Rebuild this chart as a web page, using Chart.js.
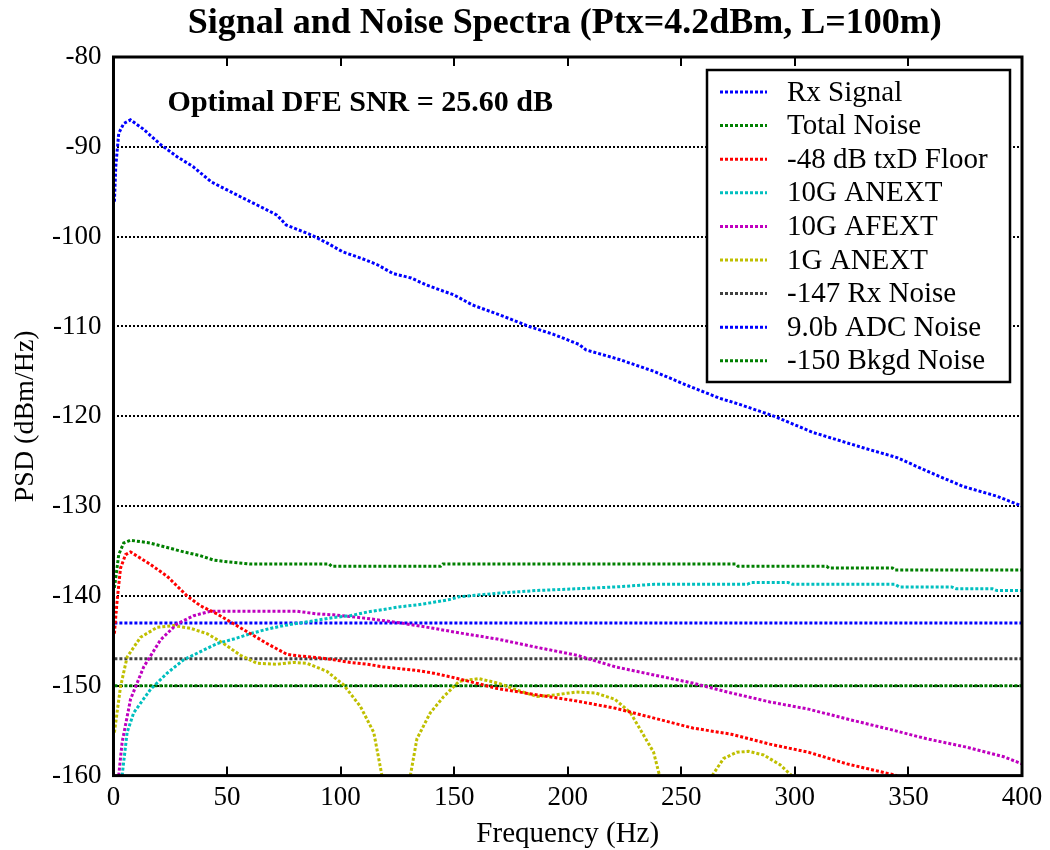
<!DOCTYPE html>
<html>
<head>
<meta charset="utf-8">
<script src="https://cdn.jsdelivr.net/npm/chart.js@4.4.1/dist/chart.umd.min.js"></script>
<style>
  html, body { margin: 0; padding: 0; background: #fff; }
  #wrap { width: 1050px; height: 850px; }
</style>
</head>
<body>
<div id="wrap"><canvas id="chart" width="1050" height="850"></canvas></div>
<script>
// values
const xTicks = [0, 50, 100, 150, 200, 250, 300, 350, 400];
const yTicks = [-80, -90, -100, -110, -120, -130, -140, -150, -160];

const rxFreq = [0.4, 1, 2.3, 4.5, 7.5, 13, 21, 28, 35, 43, 50, 57, 65, 72, 76, 87, 94, 101, 109, 116, 123, 131, 138, 150, 158, 172, 183, 194, 205, 208, 223, 238, 252, 267, 276, 291, 308, 330, 345, 360, 374, 389, 400];
const rxPsd = [-96.1, -92.2, -88.5, -87.4, -87.0, -88.0, -89.8, -91.1, -92.2, -93.9, -94.8, -95.7, -96.7, -97.6, -98.7, -99.8, -100.7, -101.7, -102.4, -103.1, -104.1, -104.6, -105.4, -106.5, -107.6, -108.9, -110.0, -110.9, -112.0, -112.6, -113.7, -115.0, -116.5, -118.0, -118.7, -120.0, -121.8, -123.5, -124.6, -126.3, -127.8, -128.9, -130.0];

const totFreq = [0.4, 1, 2.3, 4.5, 7.5, 16, 31, 38, 44, 50, 60, 95, 96, 144, 145, 274, 275, 314, 315, 343, 344, 400];
const totPsd = [-139.1, -138.0, -135.4, -134.1, -133.8, -134.1, -135.1, -135.5, -136.0, -136.2, -136.45, -136.45, -136.7, -136.7, -136.45, -136.45, -136.7, -136.7, -136.9, -136.9, -137.1, -137.1];

const txdFreq = [0.4, 1.6, 3.1, 5.3, 7.5, 16.3, 23.6, 32.4, 38.3, 45.6, 52.9, 60.3, 67.6, 76.4, 82.3, 89.6, 96.9, 104.3, 111.6, 118.9, 126.3, 133.6, 141, 150, 169, 186, 204, 221, 238, 255, 272, 289, 306, 323, 345];
const txdPsd = [-144.2, -140.5, -136.9, -135.4, -135.1, -136.5, -137.8, -140.0, -141.1, -142.0, -143.1, -144.2, -145.3, -146.5, -146.7, -146.85, -147.1, -147.4, -147.6, -147.9, -148.1, -148.3, -148.6, -149.1, -150.3, -151.0, -151.7, -152.5, -153.6, -154.7, -155.4, -156.5, -157.4, -158.7, -160.0];

const anextFreq = [3.8, 6, 8.9, 16.3, 23.6, 30.9, 38.3, 45.6, 52.9, 60.3, 67.6, 74.9, 82.3, 89.6, 96.9, 104.3, 111.6, 118.9, 126.3, 133.6, 141, 148, 152, 169, 186, 204, 221, 238, 279, 281, 297, 299, 344, 346, 369, 371, 387, 389, 400];
const anextPsd = [-160.0, -155.2, -153.0, -150.4, -148.6, -147.1, -146.2, -145.3, -144.8, -144.2, -143.7, -143.3, -143.0, -142.7, -142.4, -142.2, -141.8, -141.5, -141.2, -141.0, -140.7, -140.4, -140.1, -139.7, -139.4, -139.2, -139.0, -138.7, -138.7, -138.5, -138.5, -138.7, -138.7, -139.0, -139.0, -139.2, -139.2, -139.4, -139.4];

const afextFreq = [2.3, 3.8, 7.5, 13.3, 20.7, 28, 35.3, 42.7, 60, 80.8, 89.6, 96.9, 111.6, 126.3, 140.9, 152, 169, 186, 204, 221, 238, 255, 272, 289, 306, 323, 341, 358, 375, 392, 400];
const afextPsd = [-160.0, -156.3, -151.5, -147.9, -144.9, -143.1, -142.2, -141.7, -141.7, -141.7, -142.0, -142.1, -142.5, -143.0, -143.6, -144.1, -144.8, -145.7, -146.6, -147.9, -148.8, -149.7, -150.8, -151.8, -152.6, -153.7, -154.8, -155.9, -156.8, -157.9, -158.7];

// 1G ANEXT has nulls that drop below the axis: null splits the lobes
const g1Freq = [0.4, 3.1, 6, 11.9, 19.2, 26.5, 33.9, 41.2, 48.5, 55.9, 63.2, 72, 79.3, 85.2, 94, 101.3, 108.7, 114.6, 118.2, 124,
  130.7, 133.6, 139.5, 145.4, 152.2, 160.8, 169.3, 177.9, 186.5, 195, 203.6, 212.2, 220.7, 227.6, 232.7, 237.8, 240.4, 252,
  263.6, 268.6, 274.4, 279.6, 286.2, 293.5, 298.6];
const g1Psd = [-155.2, -150.1, -146.8, -144.6, -143.5, -143.3, -143.6, -144.2, -145.3, -146.6, -147.5, -147.6, -147.4, -147.5, -148.4, -149.9, -152.3, -155.2, -160.0, null,
  -160.0, -155.9, -153.0, -151.2, -149.5, -149.2, -149.7, -150.5, -151.2, -151.0, -150.7, -150.8, -151.5, -153.0, -155.2, -157.4, -160.0, null,
  -160.0, -158.1, -157.4, -157.3, -157.7, -158.8, -160.0];

const flatFreq = [0.4, 400];
const rxNoisePsd = [-147, -147];
const adcNoisePsd = [-143, -143];
const bkgdNoisePsd = [-150, -150];

const seriesLabels = ["Rx Signal", "Total Noise", "-48 dB txD Floor", "10G ANEXT", "10G AFEXT", "1G ANEXT", "-147 Rx Noise", "9.0b ADC Noise", "-150 Bkgd Noise"];
const seriesColors = ["#0000ff", "#008000", "#ff0000", "#00bfbf", "#bf00bf", "#bfbf00", "#404040", "#0000ff", "#008000"];

const chartTitle = "Signal and Noise Spectra (Ptx=4.2dBm, L=100m)";
const snrNote = "Optimal DFE SNR = 25.60 dB";

const SERIF = "'Liberation Serif', 'Times New Roman', serif";

function pts(xs, ys) {
  return xs.map((x, i) => ({ x: x, y: ys[i] }));
}

const seriesData = [
  pts(rxFreq, rxPsd),
  pts(totFreq, totPsd),
  pts(txdFreq, txdPsd),
  pts(anextFreq, anextPsd),
  pts(afextFreq, afextPsd),
  pts(g1Freq, g1Psd),
  pts(flatFreq, rxNoisePsd),
  pts(flatFreq, adcNoisePsd),
  pts(flatFreq, bkgdNoisePsd)
];

// title over the plot, frame, inner x ticks, SNR note and boxed legend
const framePlugin = {
  id: "frame",
  afterDatasetsDraw(chart) {
    const ctx = chart.ctx;
    const a = chart.chartArea;
    const xs = chart.scales.x;
    const ys = chart.scales.y;
    ctx.save();
    ctx.strokeStyle = "#000";
    ctx.lineWidth = 2;
    ctx.setLineDash([]);
    xTicks.forEach((v) => {
      const px = Math.round(xs.getPixelForValue(v));
      ctx.beginPath();
      ctx.moveTo(px, a.bottom);
      ctx.lineTo(px, a.bottom - 9);
      ctx.moveTo(px, a.top);
      ctx.lineTo(px, a.top + 9);
      ctx.stroke();
    });
    ctx.lineWidth = 3;
    ctx.strokeRect(a.left, a.top, a.right - a.left, a.bottom - a.top);

    ctx.fillStyle = "#000";
    ctx.textBaseline = "middle";
    ctx.textAlign = "center";
    ctx.font = "bold 36px " + SERIF;
    ctx.fillText(chartTitle, (a.left + a.right) / 2 - 3, 24);

    ctx.textAlign = "left";
    ctx.font = "bold 30px " + SERIF;
    ctx.fillText(snrNote, xs.getPixelForValue(23.8), ys.getPixelForValue(-85.1));

    // legend box
    const bx = 707, by = 70, bw = 303, bh = 312;
    ctx.fillStyle = "#fff";
    ctx.fillRect(bx, by, bw, bh);
    ctx.lineWidth = 2.5;
    ctx.strokeStyle = "#000";
    ctx.strokeRect(bx, by, bw, bh);
    ctx.font = "29px " + SERIF;
    chart.data.datasets.forEach((ds, i) => {
      const ry = 92 + i * 33.6;
      ctx.strokeStyle = ds.borderColor;
      ctx.lineWidth = 3;
      ctx.setLineDash([3, 2]);
      ctx.beginPath();
      ctx.moveTo(720, ry);
      ctx.lineTo(767, ry);
      ctx.stroke();
      ctx.setLineDash([]);
      ctx.fillStyle = "#000";
      ctx.fillText(ds.label, 787, ry + 1);
    });
    ctx.restore();
  }
};

new Chart(document.getElementById("chart"), {
  type: "line",
  data: {
    datasets: seriesData.map((data, i) => ({
      label: seriesLabels[i],
      data: data,
      borderColor: seriesColors[i],
      backgroundColor: seriesColors[i],
      borderWidth: 3,
      borderDash: [3, 2],
      pointRadius: 0,
      tension: 0,
      fill: false,
      spanGaps: false
    }))
  },
  options: {
    responsive: false,
    animation: false,
    layout: { padding: { left: 12, right: 28, top: 57, bottom: 1 } },
    plugins: {
      legend: { display: false },
      tooltip: { enabled: false },
      title: { display: false }
    },
    scales: {
      x: {
        type: "linear",
        min: 0,
        max: 400,
        afterBuildTicks: (scale) => { scale.ticks = xTicks.map((v) => ({ value: v })); },
        ticks: { color: "#000", font: { family: SERIF, size: 27 }, padding: 6, maxRotation: 0 },
        grid: { display: false, drawTicks: false },
        border: { display: false },
        title: {
          display: true,
          text: "Frequency (Hz)",
          color: "#000",
          font: { family: SERIF, size: 29, lineHeight: 1.0 },
          padding: { top: 0, bottom: 0 }
        }
      },
      y: {
        min: -160,
        max: -80,
        afterBuildTicks: (scale) => { scale.ticks = yTicks.map((v) => ({ value: v })); },
        ticks: { color: "#000", font: { family: SERIF, size: 27 }, padding: 12 },
        grid: { color: "#000", lineWidth: 2, drawTicks: false },
        border: { display: false, dash: [2, 2] },
        title: {
          display: true,
          text: "PSD (dBm/Hz)",
          color: "#000",
          font: { family: SERIF, size: 28, lineHeight: 1.0 },
          padding: { top: 0, bottom: 0 }
        }
      }
    }
  },
  plugins: [framePlugin]
});
</script>
</body>
</html>
